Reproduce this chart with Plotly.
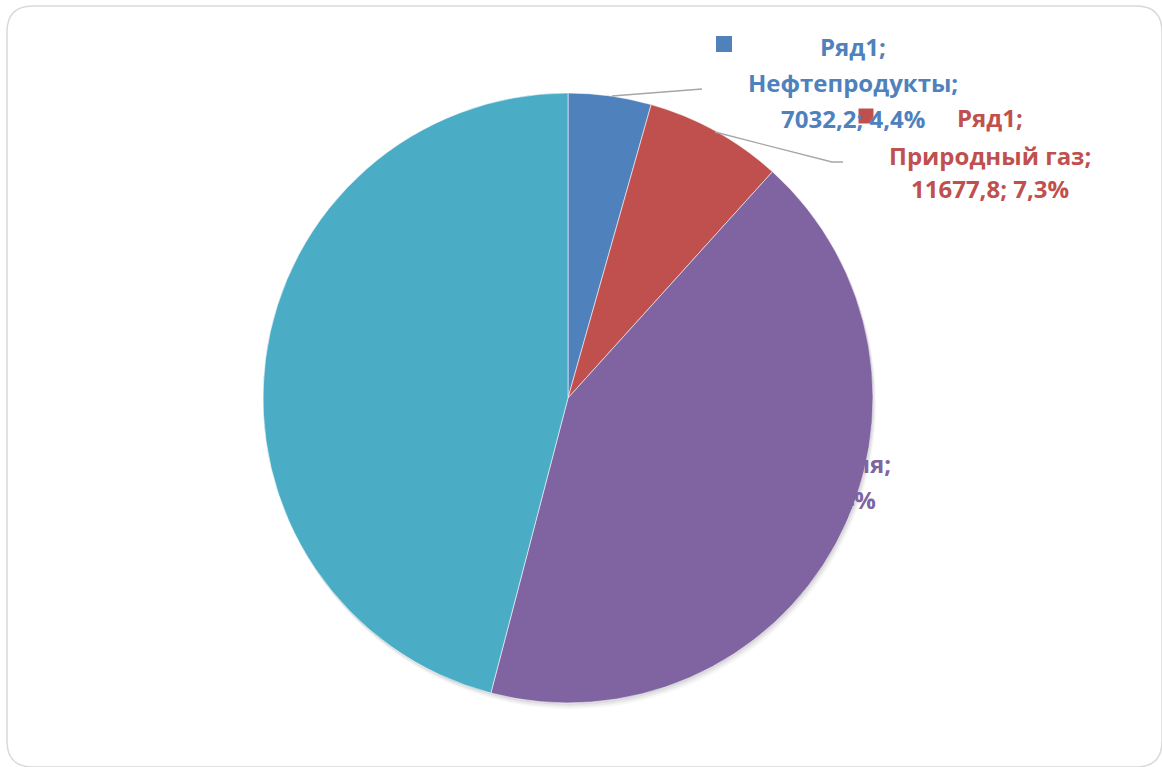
import plotly.graph_objects as go

# ---- data ----
series_name = "Ряд1"
categories = ["Нефтепродукты", "Природный газ", "Электроэнергия", "Тепловая энергия"]
values = [7032.2, 11677.8, 67800.0, 73490.0]
colors = ["#4F81BD", "#C0504D", "#8064A2", "#4BACC6"]

W, H = 1162, 767
total = sum(values)


def fmt_num(v):
    return f"{v:.1f}".replace(".", ",")


def fmt_pct(v):
    return f"{100 * v / total:.1f}".replace(".", ",") + "%"


def px(x):
    return x / W


def py(y):
    return 1 - y / H


# pie geometry in pixels
cx, cy, r = 568, 398, 305

fig = go.Figure()

# soft shadow under the pie
for dx, dy, a in [(1, 2, 0.06), (2, 4, 0.05), (3, 6, 0.03)]:
    fig.add_trace(go.Pie(
        values=[1], labels=["shadow"], sort=False, textinfo="none", hoverinfo="skip",
        marker=dict(colors=[f"rgba(0,0,0,{a})"], line=dict(width=0)),
        domain=dict(x=[px(cx - r + dx), px(cx + r + dx)], y=[py(cy + r + dy), py(cy - r + dy)]),
        showlegend=False,
    ))

fig.add_trace(go.Pie(
    labels=categories, values=values, sort=False, direction="clockwise", rotation=0,
    textinfo="none", name=series_name,
    marker=dict(colors=colors, line=dict(color="rgba(255,255,255,0.8)", width=0.7)),
    domain=dict(x=[px(cx - r), px(cx + r)], y=[py(cy + r), py(cy - r)]),
    showlegend=False,
))

FONT = "Open Sans"
FS = 24

annotations = []
shapes = []


def label_lines(i):
    return [f"{series_name};", f"{categories[i]};", f"{fmt_num(values[i])}; {fmt_pct(values[i])}"]


def add_label(i, x, ys, anchor="center", xs=None):
    for k, (t, y) in enumerate(zip(label_lines(i), ys)):
        xx = x if xs is None else xs[k]
        annotations.append(dict(
            x=px(xx), y=py(y), xref="paper", yref="paper", text=f"<b>{t}</b>",
            showarrow=False, xanchor=anchor, yanchor="middle",
            font=dict(family=FONT, size=FS, color=colors[i]),
        ))


# purple label (same colour as its slice, mostly hidden on it)
add_label(2, None, [427, 463, 499], anchor="right", xs=[860, 893, 878])
# blue label
add_label(0, 853, [47, 82, 118])
# red label
add_label(1, 990, [117, 155, 189])

# legend-key squares in the labels
for (sx, sy, s), c in [((724, 44, 16), colors[0]), ((866, 116, 15), colors[1])]:
    shapes.append(dict(type="rect", xref="paper", yref="paper",
                       x0=px(sx - s / 2), x1=px(sx + s / 2), y0=py(sy + s / 2), y1=py(sy - s / 2),
                       fillcolor=c, line=dict(width=0)))

# leader lines
def path(pts):
    return "M " + " L ".join(f"{px(x)},{py(y)}" for x, y in pts)

shapes.append(dict(type="path", xref="paper", yref="paper", path=path([(612, 96), (702, 89)]),
                   line=dict(color="#A6A6A6", width=1.3)))
shapes.append(dict(type="path", xref="paper", yref="paper", path=path([(715, 132), (832, 162), (843, 162)]),
                   line=dict(color="#A6A6A6", width=1.3)))

# rounded chart-area border
x0, y0, x1, y1, rr = 7, 6, 1162, 767, 26
border = (f"M {px(x0 + rr)},{py(y0)} L {px(x1 - rr)},{py(y0)} "
          f"Q {px(x1)},{py(y0)} {px(x1)},{py(y0 + rr)} L {px(x1)},{py(y1 - rr)} "
          f"Q {px(x1)},{py(y1)} {px(x1 - rr)},{py(y1)} L {px(x0 + rr)},{py(y1)} "
          f"Q {px(x0)},{py(y1)} {px(x0)},{py(y1 - rr)} L {px(x0)},{py(y0 + rr)} "
          f"Q {px(x0)},{py(y0)} {px(x0 + rr)},{py(y0)} Z")
shapes.insert(0, dict(type="path", xref="paper", yref="paper", path=border,
                      line=dict(color="#D9D9D9", width=1.5), layer="below"))

fig.update_layout(
    width=W, height=H, autosize=False,
    margin=dict(l=0, r=0, t=0, b=0),
    paper_bgcolor="white", plot_bgcolor="white",
    annotations=annotations, shapes=shapes,
    showlegend=False,
)

fig.write_html("out.html", config={"displayModeBar": False},
               post_script="document.body.style.margin='0';")
